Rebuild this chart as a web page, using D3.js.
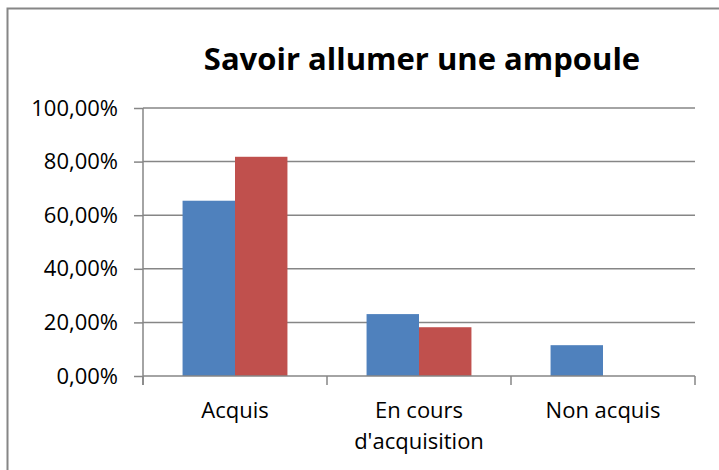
<!DOCTYPE html>
<html>
<head>
<meta charset="utf-8">
<script src="https://cdn.jsdelivr.net/npm/d3@7"></script>
<style>
  html, body { margin: 0; padding: 0; background: #fff; overflow: hidden; }
  svg { display: block; }
  svg text { font-family: "Open Sans", sans-serif; fill: #000; }
</style>
</head>
<body>
<div id="chart"></div>
<script>
// chart data
const categories = ["Acquis", "En cours d'acquisition", "Non acquis"];
const labelLines = [["Acquis"], ["En cours", "d'acquisition"], ["Non acquis"]];
const series1 = [0.654, 0.231, 0.115];
const series2 = [0.818, 0.182, 0];
const yTicks = [0, 0.2, 0.4, 0.6, 0.8, 1];
const seriesColors = ["#4F81BD", "#C0504D"];

const w = 719, h = 470;
const margin = {top: 108, right: 24, bottom: 94, left: 143};
const innerWidth = w - margin.left - margin.right;
const innerHeight = h - margin.top - margin.bottom;

const svg = d3.select("#chart")
    .append("svg")
    .attr("width", w)
    .attr("height", h);

// outer frame, its right and bottom sides lie outside the picture
svg.append("path")
    .attr("d", `M${w},8.5 H7.5 V${h}`)
    .attr("fill", "none")
    .attr("stroke", "#868686")
    .attr("stroke-width", 2);

svg.append("text")
    .attr("x", 422).attr("y", 70)
    .attr("text-anchor", "middle")
    .style("font-size", "31px")
    .style("font-weight", "bold")
    .text("Savoir allumer une ampoule");

const g = svg.append("g")
    .attr("transform", `translate(${margin.left},${margin.top})`);

// scales
const xScale = d3.scaleBand()
    .domain(categories)
    .range([0, innerWidth])
    .paddingInner(0.43)
    .paddingOuter(0.215);
const xSub = d3.scaleBand()
    .domain([0, 1])
    .range([0, xScale.bandwidth()]);
const yScale = d3.scaleLinear()
    .domain([0, 1])
    .range([innerHeight, 0]);

// gridlines
g.selectAll(".grid")
    .data(yTicks.slice(1))
    .enter()
    .append("line")
    .attr("x1", 0).attr("x2", innerWidth)
    .attr("y1", d => yScale(d)).attr("y2", d => yScale(d))
    .attr("stroke", "#868686")
    .attr("stroke-width", 1.5);

// bars
const data = categories.map((c, i) => ({cat: c, vals: [series1[i], series2[i]]}));
const groups = g.selectAll(".group")
    .data(data)
    .enter()
    .append("g")
    .attr("transform", d => `translate(${xScale(d.cat)},0)`);
groups.selectAll("rect")
    .data(d => d.vals.map((v, k) => ({v: v, k: k})))
    .enter()
    .append("rect")
    .attr("x", d => xSub(d.k))
    .attr("width", xSub.bandwidth())
    .attr("y", d => yScale(d.v))
    .attr("height", d => innerHeight - yScale(d.v))
    .attr("fill", d => seriesColors[d.k]);

// y axis
const fmt = d => d3.format(".2%")(d).replace(".", ",");
const yAxisG = g.append("g")
    .call(d3.axisLeft(yScale).tickValues(yTicks).tickFormat(fmt).tickSize(9).tickSizeOuter(0));
yAxisG.select(".domain").remove();
yAxisG.selectAll("line").attr("stroke", "#868686").attr("stroke-width", 1.5);
yAxisG.selectAll("text")
    .attr("x", -25)
    .style("font-family", "Open Sans")
    .style("font-size", "22px");
g.append("line")
    .attr("x1", 0).attr("x2", 0)
    .attr("y1", 0).attr("y2", innerHeight + 9)
    .attr("stroke", "#868686").attr("stroke-width", 1.5);

// x axis
const xAxisG = g.append("g")
    .attr("transform", `translate(0,${innerHeight})`);
xAxisG.append("line")
    .attr("x1", 0).attr("x2", innerWidth)
    .attr("stroke", "#868686").attr("stroke-width", 1.5);
const step = xScale.step();
xAxisG.selectAll(".tick")
    .data(d3.range(categories.length + 1))
    .enter()
    .append("line")
    .attr("x1", d => d * step).attr("x2", d => d * step)
    .attr("y1", 0).attr("y2", 9)
    .attr("stroke", "#868686").attr("stroke-width", 1.5);
xAxisG.selectAll(".lbl")
    .data(categories)
    .enter()
    .append("text")
    .attr("text-anchor", "middle")
    .attr("x", d => xScale(d) + xScale.bandwidth() / 2)
    .attr("y", 42)
    .style("font-size", "22px")
    .selectAll("tspan")
    .data((d, i) => labelLines[i])
    .enter()
    .append("tspan")
    .attr("x", function () { return d3.select(this.parentNode).attr("x"); })
    .attr("dy", (d, i) => i === 0 ? 0 : 31)
    .text(d => d);
</script>
</body>
</html>
